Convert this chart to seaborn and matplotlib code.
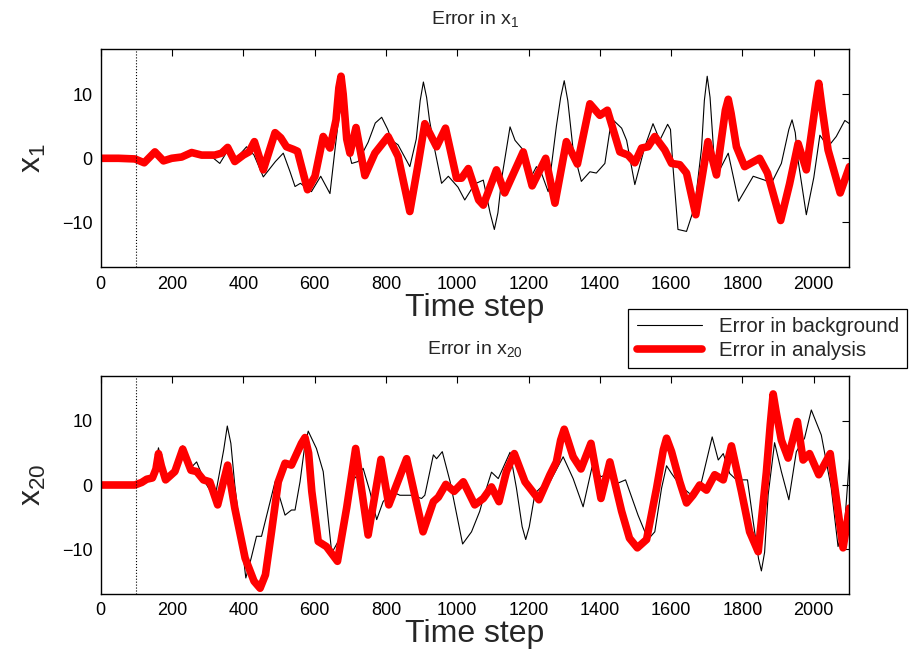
import numpy as np
import pandas as pd
import matplotlib
matplotlib.use("Agg")
import matplotlib.pyplot as plt
import seaborn as sns

# ---- data (time step, error) ----
x1_bg_t = [0, 96, 122, 152, 176, 199, 227, 255, 283, 310, 334, 356, 376, 409, 430, 456, 490,
           512, 531, 545, 560, 591, 617, 643, 660, 668, 674, 680, 688, 704, 722, 750, 770, 788,
           805, 816, 834, 867, 885, 896, 905, 914, 922, 937, 956, 975, 1002, 1021, 1049, 1073,
           1092, 1104, 1114, 1125, 1148, 1162, 1185, 1208, 1222, 1236, 1255, 1278, 1290, 1300,
           1310, 1325, 1348, 1372, 1390, 1414, 1433, 1461, 1475, 1498, 1526, 1549, 1568, 1590,
           1598, 1605, 1619, 1643, 1666, 1685, 1693, 1701, 1709, 1722, 1736, 1760, 1789, 1830,
           1862, 1881, 1909, 1930, 1939, 1948, 1955, 1979, 2000, 2017, 2040, 2063, 2087, 2100]
x1_bg_v = [0, 0, -0.7, 1.0, -0.4, 0, 0.2, 0.9, 0.5, 0.3, -0.8, 1.2, -0.3, 1.8, 0.5, -2.9, -0.5,
           0.8, -2.1, -4.4, -3.9, -5.2, -2.8, -5.5, 2.8, 6.5, 7.8, 6.0, 2.8, -0.8, -0.5, 2.5, 5.5,
           6.4, 4.5, 2.8, 2.1, -1.3, 3.0, 9.0, 11.9, 9.5, 6.0, 1.3, -3.9, -2.8, -4.5, -6.5, -4.0,
           -3.4, -8.5, -11.1, -8.5, -3.0, 4.9, 2.8, 1.3, -2.8, -1.3, -2.3, -5.2, 5.0, 9.5, 12.1,
           9.0, 1.3, -3.6, -2.1, -2.3, -0.8, 6.2, 4.7, 2.8, -4.1, 1.8, 5.4, 2.8, 5.3,
           4.5, -1.3, -11.1, -11.4, -7.5, 1.5, 9.0, 12.8, 9.5, -1.3, -1.8, 0.8, -6.7, -2.8,
           -3.4, -3.9, -0.8, 4.5, 6.0, 4.0, 0, -8.8, -3.0, 3.6, 1.8, 3.4, 5.9, 5.4]

x1_an_t = [0, 50, 96, 122, 152, 176, 199, 227, 255, 283, 320, 339, 356, 376, 400, 416, 431,
           456, 489, 505, 521, 540, 552, 580, 601, 624, 643, 660, 668, 674, 680, 690, 699, 716,
           741, 769, 806, 834, 867, 890, 909, 942, 967, 998, 1012, 1031, 1060, 1073, 1110, 1133,
           1185, 1210, 1248, 1274, 1306, 1337, 1372, 1400, 1421, 1456, 1479, 1498, 1517, 1535,
           1554, 1582, 1601, 1624, 1643, 1669, 1685, 1703, 1727, 1752, 1760, 1768, 1783, 1806,
           1848, 1870, 1907, 1932, 1956, 1979, 2005, 2014, 2024, 2040, 2074, 2100]
x1_an_v = [0, 0, -0.1, -0.7, 1.0, -0.4, 0, 0.2, 0.9, 0.5, 0.5, 0.8, 1.7, -0.5, 0.5, 1.0, 2.6,
           -1.8, 4.0, 3.2, 1.8, 1.4, 1.1, -4.9, -2.8, 3.4, 1.6, 6.0, 11.0, 12.8, 10.0, 3.0, 0.8,
           4.8, -2.7, 0.8, 3.4, 0.3, -8.3, -1.0, 5.4, 1.8, 4.7, -3.1, -3.1, -1.6, -6.5, -7.3,
           -1.8, -5.4, 1.0, -4.3, 0, -7.0, 2.6, -0.9, 8.5, 6.7, 7.5, 1.0, 0.5, -0.7, 1.6, 1.8,
           3.4, 1.3, -0.8, -1.0, -2.3, -8.8, -3.5, 2.6, -2.6, 7.5, 9.2, 7.0, 1.8, -1.3, 0, -2.3,
           -9.7, -4.0, 2.3, -1.8, 8.5, 11.7, 7.5, 1.3, -5.4, -1.3]

x20_bg_t = [0, 96, 115, 129, 145, 162, 182, 208, 230, 253, 269, 292, 320, 345, 355, 365, 376,
            407, 422, 437, 451, 489, 517, 535, 545, 559, 572, 582, 605, 624, 648, 671, 704, 736,
            755, 774, 792, 816, 839, 872, 900, 909, 933, 942, 958, 980, 1015, 1040, 1063, 1073,
            1096, 1115, 1148, 1166, 1182, 1192, 1202, 1218, 1236, 1260, 1297, 1325, 1353, 1378,
            1403, 1428, 1451, 1472, 1507, 1535, 1554, 1573, 1587, 1601, 1624, 1657, 1685, 1715,
            1732, 1746, 1764, 1783, 1814, 1830, 1845, 1853, 1862, 1872, 1890, 1909, 1930, 1951,
            1974, 1993, 2021, 2049, 2068, 2087, 2100]
x20_bg_v = [0, 0, 0.4, 0.9, 1.1, 5.8, 0.8, 2.1, 6.1, 2.7, 3.6, 0.5, -2.1, 5.5, 9.2, 6.5, 0,
            -14.5, -11.4, -8.0, -8.0, 0.5, -4.7, -3.9, -3.9, 0.5, 6.0, 8.4, 5.7, 2.1, -10.6,
            -8.3, 0.5, 2.6, -1.0, -5.4, -2.6, -1.0, -1.6, -1.6, -2.1, -1.6, 4.7, 4.1, 5.2, 0.5,
            -9.2, -7.3, -4.1, -2.1, 2.0, 1.0, 5.1, -0.5, -6.5, -8.5, -6.5, -1.3, -0.3, 0.5,
            4.4, 1.0, -3.4, 2.8, 1.3, 1.8, 0.3, 0.8, -4.7, -8.5, -7.3, -0.5, 3.0, 1.8, 0, -1.6,
            0.5, 7.5, 3.9, 4.9, 1.8, 0.8, 0.8, -5.7, -11.5, -13.4, -10.5, -1.5, 6.6, 2.1, -2.3,
            5.2, 7.3, 11.7, 7.8, -0.5, -9.6, -5.7, 4.0]

x20_an_t = [0, 96, 115, 129, 145, 155, 162, 170, 182, 208, 230, 253, 269, 288, 306, 328, 356,
            376, 405, 430, 447, 462, 479, 498, 517, 535, 563, 573, 583, 592, 610, 633, 664, 690,
            715, 750, 786, 808, 858, 904, 933, 947, 968, 991, 1017, 1049, 1073, 1096, 1117,
            1138, 1160, 1190, 1229, 1260, 1278, 1290, 1300, 1310, 1325, 1347, 1375, 1403, 1428,
            1461, 1483, 1505, 1531, 1559, 1578, 1587, 1601, 1624, 1643, 1661, 1680, 1699, 1722,
            1746, 1769, 1797, 1820, 1844, 1867, 1878, 1886, 1894, 1909, 1928, 1954, 1970, 1988,
            2014, 2046, 2082, 2100]
x20_an_v = [0, 0, 0.4, 0.9, 1.1, 2.5, 4.9, 3.0, 0.8, 2.1, 5.6, 2.3, 2.1, 0.8, 0.5, -3.1, 3.1,
            -3.6, -11.4, -15.0, -16.1, -14.0, -7.3, 0.5, 3.4, 3.1, 6.5, 7.4, 5.0, -1.0, -8.8,
            -9.6, -11.9, -3.5, 5.7, -7.8, 4.0, -3.1, 4.1, -7.3, -2.6, -1.9, 0.1, -1.0, 0.5,
            -3.1, -2.1, -0.3, -2.6, 2.1, 4.9, 0.5, -2.3, 1.6, 3.6, 7.0, 8.7, 7.0, 4.4, 2.5, 6.5,
            -2.1, 3.6, -4.1, -8.3, -9.8, -8.5, -0.5, 5.5, 7.3, 5.2, 0.5, -2.8, -1.6, 0, -0.8,
            1.6, 0.8, 6.1, -1.0, -7.3, -10.4, 2.0, 9.5, 14.2, 11.5, 7.0, 4.2, 9.9, 3.9, 4.9,
            1.6, 4.9, -9.8, -3.6]

start_step = 100
x_ticks = [0, 200, 400, 600, 800, 1000, 1200, 1400, 1600, 1800, 2000]
y_ticks = [-10, 0, 10]

sns.set_style("white")
plt.rcParams['font.family'] = ['Liberation Sans', 'DejaVu Sans']
plt.rcParams['mathtext.fontset'] = 'custom'
plt.rcParams['mathtext.rm'] = 'Liberation Sans'

fig = plt.figure(figsize=(9.09, 6.6), dpi=100)
ax_top = fig.add_axes([0.1108, 0.595, 0.8237, 0.3303])
ax_bot = fig.add_axes([0.1108, 0.100, 0.8237, 0.3303])

panels = [
    (ax_top, x1_bg_t, x1_bg_v, x1_an_t, x1_an_v, r'Error in x$_{\mathrm{1}}$', r'x$_{\mathrm{1}}$', 18),
    (ax_bot, x20_bg_t, x20_bg_v, x20_an_t, x20_an_v, r'Error in x$_{\mathrm{20}}$', r'x$_{\mathrm{20}}$', 15),
]

for ax, bg_t, bg_v, an_t, an_v, title, ylab, tpad in panels:
    bg = pd.DataFrame({'t': bg_t, 'err': bg_v})
    an = pd.DataFrame({'t': an_t, 'err': an_v})
    sns.lineplot(data=bg, x='t', y='err', ax=ax, color='black', lw=0.8, sort=False,
                 label='Error in background', solid_joinstyle='round')
    sns.lineplot(data=an, x='t', y='err', ax=ax, color='#ff0000', lw=5.5, sort=False,
                 label='Error in analysis', solid_joinstyle='round', solid_capstyle='round')
    ax.axvline(start_step, color='black', ls=':', lw=0.8)
    ax.set_xlim(0, 2100)
    ax.set_ylim(-17, 17)
    ax.set_xticks(x_ticks)
    ax.set_yticks(y_ticks)
    ax.set_yticklabels(['\u221210', '0', '10'])
    ax.tick_params(direction='in', top=True, right=True, labelsize=13, length=5, width=0.8,
                   pad=6, colors='black')
    for sp in ax.spines.values():
        sp.set_color('black')
        sp.set_linewidth(1.0)
    ax.set_title(title, fontsize=14, pad=tpad)
    ax.set_xlabel('Time step', fontsize=23, labelpad=0)
    ax.set_ylabel(ylab, fontsize=23, labelpad=10)
    ax.get_legend().remove()

handles, labels = ax_top.get_legend_handles_labels()
leg = fig.legend(handles, labels, loc='upper right', bbox_to_anchor=(0.998, 0.532),
                 fontsize=14.8, frameon=True, fancybox=False, framealpha=1,
                 edgecolor='black', handlelength=3.2, borderaxespad=0, borderpad=0.4,
                 labelspacing=0.25)
leg.get_frame().set_linewidth(0.9)

fig.savefig('out.png', dpi=100)
